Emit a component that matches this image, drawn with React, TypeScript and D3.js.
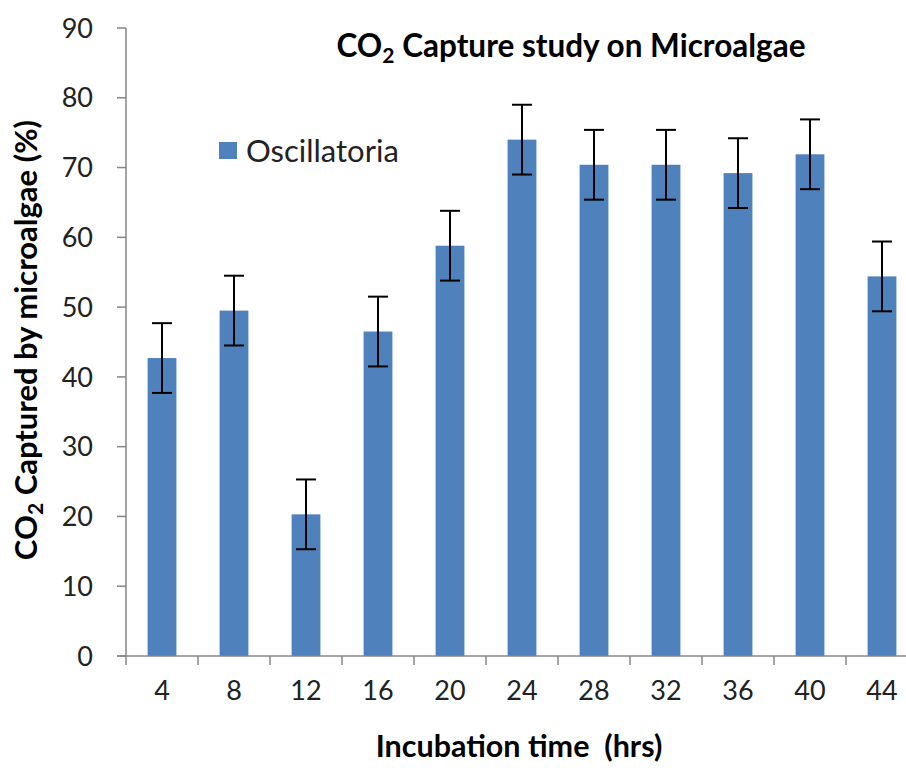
import * as d3 from "d3";

// incubation time categories (hrs)
const hours = ["4", "8", "12", "16", "20", "24", "28", "32", "36", "40", "44"];
// CO2 captured (%) and error (+/-)
const captured = [42.7, 49.5, 20.3, 46.5, 58.8, 74.0, 70.4, 70.4, 69.2, 71.9, 54.4];
const errors = [5, 5, 5, 5, 5, 5, 5, 5, 5, 5, 5];
const yTicks = [0, 10, 20, 30, 40, 50, 60, 70, 80, 90];

const W = 906;
const H = 768;
const axisColor = "#868686";
const barColor = "#4F81BD";
const font = "Lato, 'Open Sans', sans-serif";

export default function App() {
  const x = d3
    .scaleBand<string>()
    .domain(hours)
    .range([126, 918])
    .paddingInner(0.6)
    .paddingOuter(0.3);
  const y = d3.scaleLinear().domain([0, 90]).range([656, 28]);
  const step = x.step();
  const x0 = 126;

  return (
    <svg
      width={W}
      height={H}
      style={{ position: "absolute", left: 0, top: 0, background: "#fff" }}
      fontFamily={font}
    >
      {/* title */}
      <text x={571} y={57} textAnchor="middle" fontSize={31.5} fontWeight="bold" fill="#000">
        CO<tspan fontSize={21} dy={6}>2</tspan>
        <tspan dy={-6}> Capture study on Microalgae</tspan>
      </text>

      {/* bars */}
      {captured.map((v, i) => (
        <rect
          key={hours[i]}
          x={x(hours[i])!}
          y={y(v)}
          width={x.bandwidth()}
          height={y(0) - y(v)}
          fill={barColor}
        />
      ))}

      {/* error bars */}
      {captured.map((v, i) => {
        const cx = x(hours[i])! + x.bandwidth() / 2;
        const top = y(v + errors[i]);
        const bot = y(v - errors[i]);
        return (
          <g key={"e" + i} stroke="#000" strokeWidth={2}>
            <line x1={cx} x2={cx} y1={top} y2={bot} />
            <line x1={cx - 10} x2={cx + 10} y1={top} y2={top} />
            <line x1={cx - 10} x2={cx + 10} y1={bot} y2={bot} />
          </g>
        );
      })}

      {/* y axis */}
      <line x1={x0} x2={x0} y1={y(90)} y2={y(0)} stroke={axisColor} strokeWidth={1.5} />
      {yTicks.map((t) => (
        <g key={t}>
          <line x1={x0 - 9} x2={x0} y1={y(t)} y2={y(t)} stroke={axisColor} strokeWidth={1.5} />
          <text x={93} y={y(t)} dy="0.36em" textAnchor="end" fontSize={27} fill="#222">
            {t}
          </text>
        </g>
      ))}

      {/* x axis */}
      <line x1={x0 - 9} x2={W} y1={y(0)} y2={y(0)} stroke={axisColor} strokeWidth={1.5} />
      {hours.map((h, i) => (
        <g key={h}>
          <line
            x1={x0 + i * step}
            x2={x0 + i * step}
            y1={y(0)}
            y2={y(0) + 9}
            stroke={axisColor}
            strokeWidth={1.5}
          />
          <text
            x={x(h)! + x.bandwidth() / 2}
            y={700}
            textAnchor="middle"
            fontSize={27}
            fill="#222"
          >
            {h}
          </text>
        </g>
      ))}

      {/* axis titles */}
      <text x={519} y={757} textAnchor="middle" fontSize={30.5} fontWeight="bold" fill="#000">
        Incubation time {"\u00a0"}(hrs)
      </text>
      <text
        transform="translate(37,340) rotate(-90)"
        textAnchor="middle"
        fontSize={31}
        fontWeight="bold"
        fill="#000"
      >
        CO<tspan fontSize={21} dy={6}>2</tspan>
        <tspan dy={-6}> Captured by microalgae (%)</tspan>
      </text>

      {/* legend */}
      <rect x={219} y={142} width={18} height={17} fill={barColor} />
      <text x={246} y={162} fontSize={31} fill="#222">
        Oscillatoria
      </text>
    </svg>
  );
}
